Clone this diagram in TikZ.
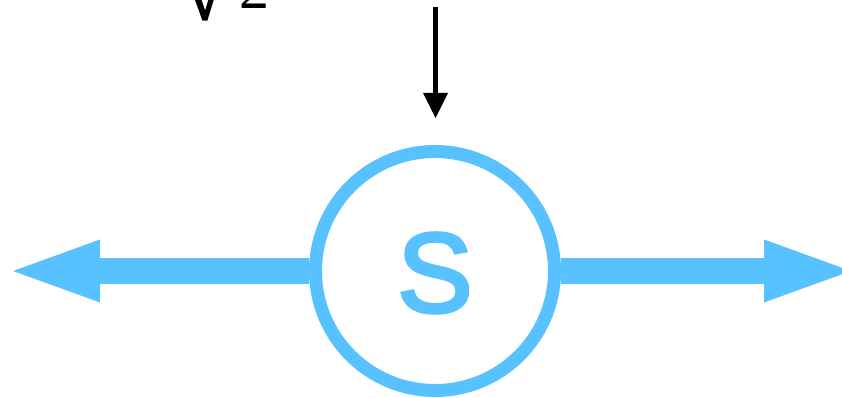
\documentclass[tikz,border=0pt]{standalone}
\usepackage{fontspec}
\setmainfont{Liberation Serif}
\newfontfamily\sfont{Liberation Sans}
\usetikzlibrary{arrows.meta}
\definecolor{cblue}{RGB}{88,193,255}
\newcommand{\heavytext}[2]{\special{pdf:literal direct 2 Tr #1 w}#2\special{pdf:literal direct 0 Tr}}
\tikzset{
  bluearrow/.style={draw=cblue, line width=26pt, -{Triangle[length=87pt,width=63pt,line width=0pt,fill=cblue]}},
  blackarrow/.style={draw=black, line width=5.5pt, -{Triangle[length=25pt,width=25pt,line width=0pt,fill=black]}}
}
\begin{document}
\begin{tikzpicture}[x=1pt,y=1pt]
\useasboundingbox (0,0) rectangle (842,398);
\node[circle, draw=cblue, line width=13pt, minimum size=239pt, inner sep=0pt, fill=white] (s) at (435,127) {};
\node[text=cblue, font=\sfont\fontsize{113}{113}\selectfont] (slabel) at (435,125) {\heavytext{3.5}{S}};
\coordinate (lend) at (13,127);
\coordinate (rend) at (851,127);
\coordinate (top) at (435.5,391);
\coordinate (bot) at (435.5,280);
\draw[bluearrow] (s.west) -- (lend);
\draw[bluearrow] (s.east) -- (rend);
\draw[blackarrow] (top) -- (bot);
\node[anchor=base west, inner sep=0pt, font=\fontsize{60}{60}\selectfont] (frac) at (188,389) {\raisebox{-10pt}{\heavytext{2.5}{√}}\hspace{18pt}2};
\end{tikzpicture}
\end{document}
